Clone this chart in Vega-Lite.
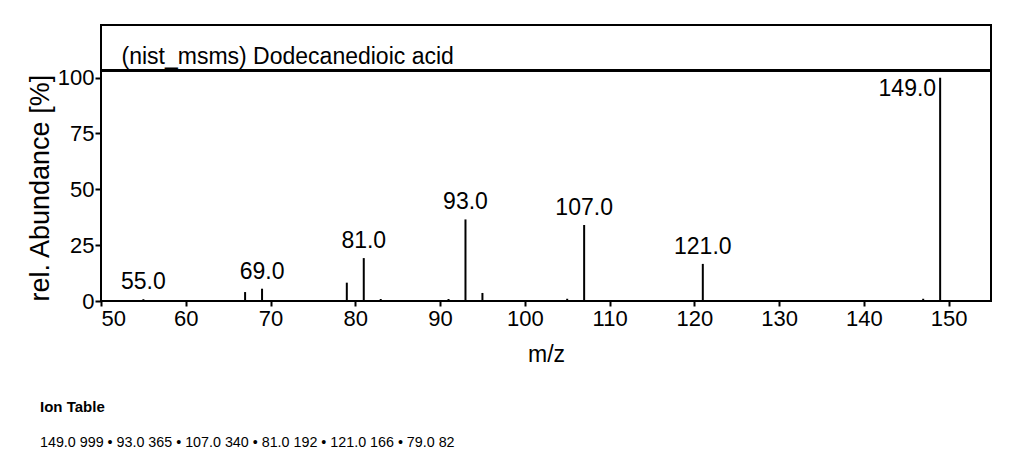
{
  "$schema": "https://vega.github.io/schema/vega-lite/v6.json",
  "autosize": {"type": "none"},
  "padding": {"left": 101, "top": 25, "right": 41, "bottom": 165},
  "width": 890,
  "height": 276,
  "background": "white",
  "config": {
    "view": {"stroke": "black", "strokeWidth": 2},
    "text": {"font": "Liberation Sans", "fontSize": 23, "color": "black"}
  },
  "title": {
    "text": "Ion Table",
    "subtitle": "149.0 999 • 93.0 365 • 107.0 340 • 81.0 192 • 121.0 166 • 79.0 82",
    "orient": "bottom",
    "anchor": "start",
    "frame": "group",
    "dx": -61,
    "offset": 34,
    "font": "Liberation Sans",
    "fontSize": 15,
    "fontWeight": "bold",
    "color": "black",
    "subtitleFont": "Liberation Sans",
    "subtitleFontSize": 14.3,
    "subtitleColor": "black",
    "subtitlePadding": 21
  },
  "data": {
    "values": [
      {"mz": 55, "rel": 0.8, "label": "55.0"},
      {"mz": 67, "rel": 4.0},
      {"mz": 69, "rel": 5.5, "label": "69.0"},
      {"mz": 79, "rel": 8.2},
      {"mz": 81, "rel": 19.2, "label": "81.0"},
      {"mz": 83, "rel": 0.9},
      {"mz": 91, "rel": 0.9},
      {"mz": 93, "rel": 36.5, "label": "93.0"},
      {"mz": 95, "rel": 3.6},
      {"mz": 105, "rel": 1.0},
      {"mz": 107, "rel": 34.0, "label": "107.0"},
      {"mz": 121, "rel": 16.6, "label": "121.0"},
      {"mz": 147, "rel": 1.0},
      {"mz": 149, "rel": 99.9, "label": "149.0"}
    ]
  },
  "layer": [
    {
      "mark": {"type": "rule", "color": "black", "strokeWidth": 2},
      "encoding": {
        "x": {
          "field": "mz", "type": "quantitative",
          "scale": {"domain": [50, 155], "nice": false, "zero": false},
          "axis": {
            "orient": "bottom",
            "values": [50, 60, 70, 80, 90, 100, 110, 120, 130, 140, 150],
            "format": "d",
            "grid": false, "domain": false,
            "tickSize": 5, "tickWidth": 2, "tickColor": "black",
            "labelFont": "Liberation Sans",
            "labelFontSize": 22, "labelColor": "black", "labelPadding": 2,
            "title": "m/z",
            "titleFont": "Liberation Sans",
            "titleFontSize": 23, "titleFontWeight": "normal", "titleColor": "black",
            "titlePadding": 14
          }
        },
        "y": {
          "field": "rel", "type": "quantitative",
          "scale": {"domain": [0, 123.5], "nice": false},
          "axis": {
            "values": [0, 25, 50, 75, 100],
            "grid": false, "domain": false,
            "tickSize": 6, "tickWidth": 2, "tickColor": "black",
            "labelFont": "Liberation Sans",
            "labelFontSize": 22, "labelColor": "black", "labelPadding": 1,
            "title": "rel. Abundance [%]",
            "titleFont": "Liberation Sans",
            "titleFontSize": 27, "titleFontWeight": "normal", "titleColor": "black",
            "titleAnchor": "start",
            "titlePadding": 3
          }
        },
        "y2": {"datum": 0}
      }
    },
    {
      "mark": {"type": "rule", "color": "black", "strokeWidth": 2},
      "encoding": {"y": {"datum": 103.3}}
    },
    {
      "transform": [{"filter": "isValid(datum.label) && datum.mz < 149"}],
      "mark": {"type": "text", "baseline": "alphabetic", "align": "center", "dy": -10},
      "encoding": {
        "x": {
          "field": "mz", "type": "quantitative",
          "axis": {
            "orient": "top",
            "ticks": false, "labels": false, "domain": false, "grid": false,
            "title": "(nist_msms) Dodecanedioic acid",
            "titleFont": "Liberation Sans",
            "titleFontSize": 23, "titleFontWeight": "normal", "titleColor": "black",
            "titleAnchor": "start", "titleAlign": "left", "titleBaseline": "alphabetic",
            "titleX": 20, "titleY": 38
          }
        },
        "y": {"field": "rel", "type": "quantitative"},
        "text": {"field": "label", "type": "nominal"}
      }
    },
    {
      "transform": [{"filter": "datum.mz == 149"}],
      "mark": {"type": "text", "baseline": "alphabetic", "align": "right", "dx": -4, "dy": 18},
      "encoding": {
        "x": {"field": "mz", "type": "quantitative", "axis": null},
        "y": {"field": "rel", "type": "quantitative"},
        "text": {"field": "label", "type": "nominal"}
      }
    }
  ]
}
